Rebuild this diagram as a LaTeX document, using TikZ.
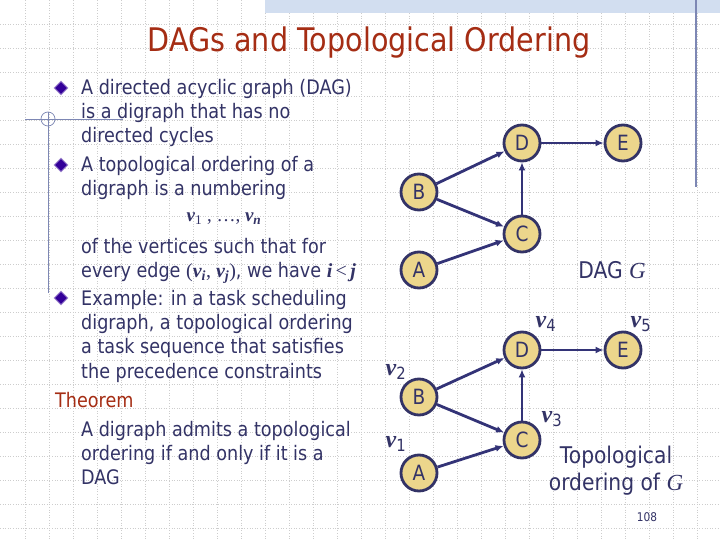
\documentclass[tikz,border=0pt]{standalone}
\usepackage{fontspec}
\setmainfont{DejaVu Sans}[FakeStretch=0.88]
\newfontfamily\tnr{Liberation Serif}
\usetikzlibrary{arrows.meta,shapes.geometric}
\definecolor{txt}{RGB}{51,51,102}
\definecolor{titlec}{RGB}{165,45,20}
\definecolor{nodefill}{RGB}{236,214,140}
\definecolor{nodeedge}{RGB}{51,51,102}
\definecolor{edgec}{RGB}{51,51,119}
\definecolor{gridc}{RGB}{205,205,205}
\definecolor{bandc}{RGB}{210,222,240}
\definecolor{decoc}{RGB}{125,135,180}
\definecolor{bulletc}{RGB}{51,0,153}
\newcommand{\bv}{{\tnr\bfseries\itshape v}}
\newcommand{\bi}[1]{{\tnr\bfseries\itshape #1}}
\begin{document}
\begin{tikzpicture}[x=1pt,y=-1pt,
  txtline/.style={anchor=base west, text=txt, font=\fontsize{20}{24}\selectfont, inner sep=0pt},
  bulletmark/.style={diamond, fill=bulletc, draw=bulletc!45, line width=0.9pt, inner sep=0pt, minimum size=14pt},
  vtx/.style={circle, fill=nodefill, draw=nodeedge, line width=2.8pt, minimum size=36pt, inner sep=0pt, text=txt, font=\fontsize{21}{21}\selectfont},
  edge/.style={draw=edgec, line width=2.8pt, -{Latex[length=8pt,width=7pt]}},
  vlab/.style={text=txt, inner sep=0pt, font=\fontsize{24}{24}\selectfont},
  caption/.style={text=txt, inner sep=0pt, font=\fontsize{23}{27}\selectfont, align=center}
]
\useasboundingbox (0,0) rectangle (720,540);
\fill[white] (0,0) rectangle (720,540);
% background grid
\foreach \x in {25,49,...,697} \draw[gridc, dotted, line width=0.6pt] (\x,0) -- (\x,540);
\foreach \y in {24,48,...,528} \draw[gridc, dotted, line width=0.6pt] (0,\y) -- (720,\y);
% decorations
\fill[bandc] (265,0) rectangle (720,13);
\draw[decoc, line width=1.3pt] (696,0) -- (696,187);
\draw[decoc, line width=0.9pt] (25,119) -- (123,119);
\draw[decoc, line width=0.9pt] (48,112) -- (48,293);
\draw[decoc, line width=0.7pt] (48,119) circle (7);
% title
\node[anchor=base, text=titlec, font=\fontsize{32.5}{38}\selectfont, inner sep=0pt] (title) at (369,52) {DAGs and Topological Ordering};
% bullets
\node[bulletmark] (b1) at (61,88) {};
\node[bulletmark] (b2) at (61,165) {};
\node[bulletmark] (b3) at (61,298) {};
% text
\node[txtline] (t1) at (81,95) {A directed acyclic graph (DAG)};
\node[txtline] (t2) at (81,119) {is a digraph that has no};
\node[txtline] (t3) at (81,143) {directed cycles};
\node[txtline] (t4) at (81,172) {A topological ordering of a};
\node[txtline] (t5) at (81,196) {digraph is a numbering};
\node[anchor=base, text=txt, inner sep=0pt, font=\fontsize{19}{22}\selectfont] (t6) at (224,222) {\bv{\tnr\textsubscript{1}}{\tnr\ , \ldots, }\bv\textsubscript{\bi{n}}};
\node[txtline] (t7) at (81,253) {of the vertices such that for};
\node[txtline] (t8) at (81,277) {every edge {\tnr(}\bv\textsubscript{\bi{i}}{\tnr, }\bv\textsubscript{\bi{j}}{\tnr)}, we have \bi{i}\,{\tnr<}\,\bi{j}};
\node[txtline] (t9) at (81,305) {Example: in a task scheduling};
\node[txtline] (t10) at (81,329) {digraph, a topological ordering};
\node[txtline] (t11) at (81,353) {a task sequence that satisfies};
\node[txtline] (t12) at (81,378) {the precedence constraints};
\node[txtline, text=titlec] (t13) at (55,407) {Theorem};
\node[txtline] (t14) at (81,436) {A digraph admits a topological};
\node[txtline] (t15) at (81,460) {ordering if and only if it is a};
\node[txtline] (t16) at (81,484) {DAG};
% top graph
\node[vtx] (D1) at (522,143) {D};
\node[vtx] (E1) at (623,143) {E};
\node[vtx] (B1) at (419,192) {B};
\node[vtx] (C1) at (522,234) {C};
\node[vtx] (A1) at (419,270) {A};
\draw[edge] (B1) -- (D1);
\draw[edge] (D1) -- (E1);
\draw[edge] (C1) -- (D1);
\draw[edge] (B1) -- (C1);
\draw[edge] (A1) -- (C1);
\node[caption] (cap1) at (612,270) {DAG {\tnr\itshape G}};
% bottom graph
\node[vtx] (D2) at (522,350) {D};
\node[vtx] (E2) at (623,350) {E};
\node[vtx] (B2) at (419,397) {B};
\node[vtx] (C2) at (522,440) {C};
\node[vtx] (A2) at (419,473) {A};
\draw[edge] (B2) -- (D2);
\draw[edge] (D2) -- (E2);
\draw[edge] (C2) -- (D2);
\draw[edge] (B2) -- (C2);
\draw[edge] (A2) -- (C2);
\node[vlab] (l4) at (546,324) {\bv\textsubscript{4}};
\node[vlab] (l5) at (641,324) {\bv\textsubscript{5}};
\node[vlab] (l2) at (396,372) {\bv\textsubscript{2}};
\node[vlab] (l3) at (552,419) {\bv\textsubscript{3}};
\node[vlab] (l1) at (396,444) {\bv\textsubscript{1}};
\node[caption] (cap2) at (616,471) {Topological\\ordering of {\tnr\itshape G}};
\node[text=txt, inner sep=0pt, font=\fontsize{12}{12}\selectfont] (pg) at (647,517) {108};
\end{tikzpicture}
\end{document}
